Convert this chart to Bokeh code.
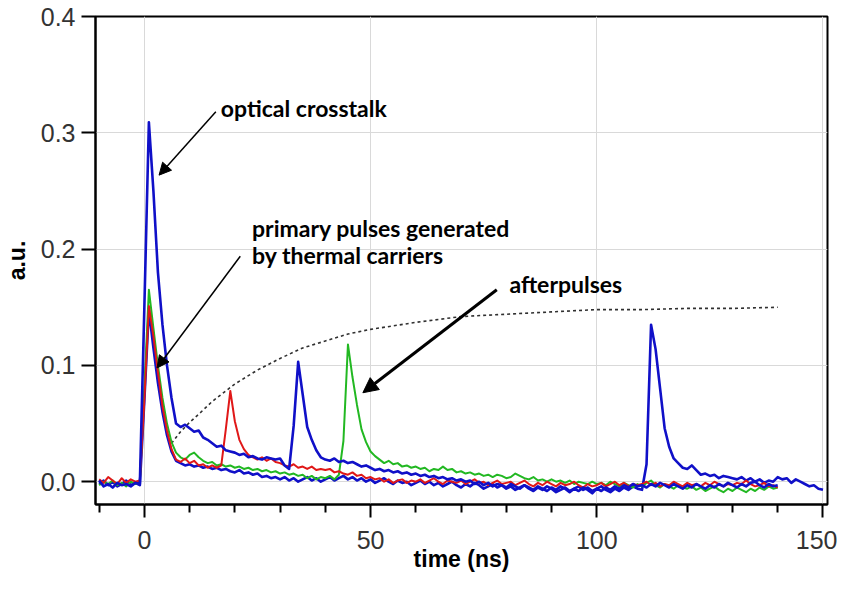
from bokeh.plotting import figure
from bokeh.models import Range1d, FixedTicker, PrintfTickFormatter, Label, Arrow, NormalHead
from bokeh.embed import file_html
from bokeh.resources import INLINE

# ---------------- data ----------------
t_short = list(range(-10, 141))   # ns, 1 ns sampling
t_long = list(range(-10, 151))

red_v = [
    0.002, -0.001, 0.004, 0.001, -0.002, 0.003, -0.001, 0.002, 0.000, 0.001,
    0.070, 0.151, 0.125, 0.094, 0.065, 0.044, 0.028, 0.019, 0.017, 0.020,
    0.016, 0.018, 0.014, 0.015, 0.012, 0.014, 0.012, 0.014, 0.045, 0.078,
    0.052, 0.036, 0.028, 0.023, 0.021, 0.019, 0.021, 0.018, 0.020, 0.017,
    0.016, 0.014, 0.013, 0.015, 0.012, 0.013, 0.011, 0.013, 0.010, 0.011,
    0.010, 0.011, 0.008, 0.009, 0.007, 0.006, 0.008, 0.005, 0.006, 0.003,
    0.004, 0.002, 0.003, 0.000, 0.002, -0.001, 0.001, 0.002, -0.001, 0.001,
    0.000, 0.002, -0.001, 0.001, 0.003, 0.000, -0.002, 0.001, 0.000, -0.001,
    0.001, -0.002, 0.000, 0.002, -0.001, 0.000, -0.003, -0.001, 0.001, -0.002,
    -0.001, 0.000, -0.003, -0.001, 0.001, -0.002, -0.004, -0.001, -0.003, 0.000,
    -0.002, -0.004, -0.001, -0.003, -0.002, 0.000, -0.003, -0.005, -0.002, -0.004,
    -0.003, -0.001, -0.004, -0.002, 0.000, -0.003, -0.001, -0.004, -0.002, -0.003,
    -0.002, 0.000, -0.003, -0.001, -0.004, -0.002, -0.003, 0.000, -0.002, -0.004,
    -0.001, -0.003, -0.002, -0.004, -0.001, -0.003, 0.000, -0.002, -0.004, -0.002,
    -0.003, -0.001, -0.002, 0.001, -0.002, -0.004, -0.003, -0.001, -0.004, -0.003, -0.005,
]

green_v = [
    -0.003, 0.000, -0.002, 0.001, -0.003, -0.001, -0.004, 0.000, -0.002, 0.000,
    0.080, 0.165, 0.132, 0.100, 0.072, 0.050, 0.034, 0.025, 0.021, 0.019,
    0.023, 0.025, 0.021, 0.018, 0.016, 0.017, 0.014, 0.015, 0.013, 0.014,
    0.012, 0.013, 0.011, 0.012, 0.010, 0.011, 0.009, 0.010, 0.008, 0.009,
    0.007, 0.008, 0.006, 0.007, 0.005, 0.006, 0.003, 0.005, 0.002, 0.004,
    0.003, 0.005, 0.002, 0.006, 0.035, 0.118, 0.090, 0.066, 0.045, 0.034,
    0.026, 0.022, 0.019, 0.016, 0.018, 0.015, 0.016, 0.013, 0.014, 0.012,
    0.013, 0.011, 0.012, 0.009, 0.011, 0.010, 0.013, 0.010, 0.011, 0.008,
    0.009, 0.007, 0.008, 0.006, 0.007, 0.005, 0.006, 0.004, 0.006, 0.005,
    0.003, 0.004, 0.007, 0.005, 0.003, 0.002, 0.004, 0.001, 0.002, 0.000,
    0.002, 0.000, 0.001, -0.001, 0.001, -0.002, 0.000, -0.001, -0.002, 0.000,
    -0.002, -0.001, -0.003, 0.000, -0.002, -0.004, -0.001, -0.003, -0.005, -0.002,
    -0.004, -0.001, 0.001, -0.003, -0.005, -0.002, -0.004, -0.006, -0.003, -0.005,
    -0.006, -0.004, -0.007, -0.005, -0.008, -0.006, -0.004, -0.007, -0.009, -0.006,
    -0.008, -0.005, -0.007, -0.009, -0.006, -0.008, -0.005, -0.007, -0.004, -0.006, -0.005,
]

blue_a_v = [
    0.001, -0.004, -0.002, -0.005, -0.001, -0.003, -0.002, -0.004, -0.001, -0.002,
    0.150, 0.309, 0.250, 0.180, 0.135, 0.100, 0.072, 0.050, 0.047, 0.049,
    0.046, 0.043, 0.044, 0.038, 0.036, 0.033, 0.030, 0.031, 0.027, 0.026,
    0.025, 0.023, 0.024, 0.021, 0.022, 0.020, 0.019, 0.021, 0.020, 0.019,
    0.020, 0.014, 0.011, 0.048, 0.103, 0.075, 0.047, 0.036, 0.027, 0.021,
    0.019, 0.018, 0.020, 0.017, 0.018, 0.016, 0.017, 0.015, 0.013, 0.014,
    0.012, 0.010, 0.011, 0.009, 0.010, 0.008, 0.009, 0.007, 0.008, 0.006,
    0.007, 0.005, 0.006, 0.004, 0.005, 0.003, 0.004, 0.002, 0.003, 0.001,
    0.002, 0.000, 0.001, -0.002, 0.000, -0.003, -0.001, -0.004, -0.002, -0.003,
    -0.005, -0.002, -0.004, -0.006, -0.003, -0.005, -0.007, -0.004, -0.006, -0.008,
    -0.005, -0.007, -0.004, -0.006, -0.009, -0.006, -0.008, -0.005, -0.007, -0.010,
    -0.006, -0.008, -0.005, -0.007, -0.004, -0.006, -0.003, -0.005, -0.002, -0.004,
    -0.003, -0.005, -0.002, -0.004, -0.001, -0.003, -0.005, -0.002, -0.004, -0.006,
    -0.003, -0.005, -0.002, -0.004, -0.006, -0.003, -0.005, -0.002, -0.004, -0.001,
    -0.003, -0.005, -0.002, -0.004, -0.001, 0.000, -0.003, -0.005, -0.002, -0.004, -0.003,
]

blue_b_v = [
    -0.002, 0.001, -0.003, 0.000, -0.004, -0.002, 0.001, -0.003, -0.001, -0.003,
    0.070, 0.148, 0.115, 0.085, 0.060, 0.040, 0.026, 0.018, 0.016, 0.014,
    0.015, 0.013, 0.014, 0.012, 0.013, 0.011, 0.012, 0.010, 0.011, 0.009,
    0.008, 0.010, 0.007, 0.008, 0.006, 0.007, 0.004, 0.005, 0.003, 0.004,
    0.002, 0.004, 0.001, 0.003, 0.000, 0.002, 0.004, 0.001, 0.003, 0.000,
    0.002, 0.004, 0.001, 0.003, 0.005, 0.002, 0.004, 0.001, 0.003, 0.000,
    0.002, -0.001, 0.001, 0.003, 0.000, -0.002, 0.001, -0.001, 0.000, -0.003,
    -0.001, 0.001, -0.002, 0.000, -0.003, -0.001, -0.004, -0.002, 0.000, -0.003,
    -0.005, -0.002, -0.004, -0.001, -0.003, -0.006, -0.004, -0.002, -0.005, -0.003,
    -0.006, -0.004, -0.007, -0.005, -0.003, -0.006, -0.008, -0.005, -0.007, -0.004,
    -0.006, -0.009, -0.007, -0.005, -0.008, -0.006, -0.004, -0.007, -0.005, -0.008,
    -0.006, -0.004, -0.007, -0.009, -0.006, -0.008, -0.005, -0.007, -0.004, -0.006,
    -0.007, 0.015, 0.135, 0.114, 0.080, 0.046, 0.030, 0.020, 0.016, 0.012,
    0.011, 0.014, 0.010, 0.006, 0.007, 0.005, 0.006, 0.003, 0.005, 0.004,
    0.003, 0.002, 0.004, 0.001, 0.003, 0.000, 0.002, -0.001, 0.001, 0.000,
    0.004, 0.002, 0.003, -0.001, 0.002, 0.000, -0.002, -0.004, -0.003, -0.006, -0.007,
]

# dotted recovery envelope
curve_t = [6, 8, 10, 12, 15, 20, 25, 30, 35, 40, 45, 50, 60, 70, 80, 90, 100, 110, 120, 130, 140]
curve_v = [0.033, 0.043, 0.051, 0.058, 0.069, 0.084, 0.096, 0.106, 0.115, 0.121, 0.127, 0.131,
           0.137, 0.142, 0.144, 0.146, 0.148, 0.148, 0.149, 0.149, 0.150]

x_major = [0, 50, 100, 150]
x_minor = [-10, 10, 20, 30, 40, 60, 70, 80, 90, 110, 120, 130, 140]
y_major = [0.0, 0.1, 0.2, 0.3, 0.4]

# annotations: text, x, y (data units)
notes = [
    ("optical crosstalk", 16.9, 0.321),
    ("primary pulses generated", 23.8, 0.2185),
    ("by thermal carriers", 23.8, 0.1947),
    ("afterpulses", 80.7, 0.170),
]
# arrows: x_start, y_start, x_end, y_end, width
arrows = [
    (15.8, 0.318, 3.25, 0.2636, 1.5),
    (21.2, 0.1939, 2.8, 0.0978, 1.5),
    (77.9, 0.165, 48.3, 0.0765, 3.0),
]

# ---------------- figure ----------------
p = figure(width=837, height=574, output_backend="svg", toolbar_location=None,
           x_range=Range1d(-10.8, 151), y_range=Range1d(-0.0196, 0.4),
           min_border_left=92, min_border_right=10, min_border_top=16, min_border_bottom=5)
p.background_fill_color = "white"
p.border_fill_color = "white"
p.outline_line_color = "black"
p.outline_line_width = 2

p.xaxis.ticker = FixedTicker(ticks=x_major, minor_ticks=x_minor)
p.yaxis.ticker = FixedTicker(ticks=y_major)
p.yaxis.formatter = PrintfTickFormatter(format="%.1f")

for ax in (p.xaxis[0], p.yaxis[0]):
    ax.axis_line_color = "black"
    ax.axis_line_width = 2
    ax.major_tick_line_color = "black"
    ax.major_tick_line_width = 2
    ax.major_tick_in = 0
    ax.minor_tick_line_color = "black"
    ax.minor_tick_line_width = 2
    ax.minor_tick_in = 0
    ax.major_label_text_font = "Liberation Sans"
    ax.major_label_text_font_size = "25px"
    ax.major_label_text_color = "#333333"
    ax.axis_label_text_font = "Liberation Sans"
    ax.axis_label_text_font_style = "bold"
    ax.axis_label_text_font_size = "23px"
    ax.axis_label_text_color = "black"

p.xaxis.major_tick_out = 13
p.xaxis.minor_tick_out = 8
p.xaxis.major_label_standoff = 13
p.xaxis.axis_label = "time (ns)"
p.xaxis.axis_label_standoff = -6

p.yaxis.major_tick_out = 14
p.yaxis.minor_tick_out = 0
p.yaxis.major_label_standoff = 6
p.yaxis.axis_label = "a.u."
p.yaxis.axis_label_standoff = 8

p.xgrid.ticker = FixedTicker(ticks=x_major)
p.ygrid.ticker = FixedTicker(ticks=y_major)
p.xgrid.grid_line_color = "#d9d9d9"
p.ygrid.grid_line_color = "#d9d9d9"
p.xgrid.grid_line_width = 1
p.ygrid.grid_line_width = 1

# dotted curve
p.line(curve_t, curve_v, line_color="#303030", line_width=1.6, line_dash="3 3")

# traces
p.line(t_long, blue_b_v, line_color="#1010c8", line_width=2.6, line_join="round")
p.line(t_short, green_v, line_color="#22b822", line_width=2, line_join="round")
p.line(t_short, red_v, line_color="#e01818", line_width=2, line_join="round")
p.line(t_short, blue_a_v, line_color="#1010c8", line_width=2.6, line_join="round")

for txt, x, y in notes:
    p.add_layout(Label(x=x, y=y, text=txt, text_font="Lato", text_font_style="bold",
                       text_font_size="23px", text_color="black", text_baseline="alphabetic"))

for xs, ys, xe, ye, w in arrows:
    head = NormalHead(size=12 if w < 2 else 15, fill_color="black", line_color="black", line_width=1)
    p.add_layout(Arrow(end=head, x_start=xs, y_start=ys, x_end=xe, y_end=ye,
                       line_color="black", line_width=w))

open("out.html", "w").write(file_html(p, INLINE))
